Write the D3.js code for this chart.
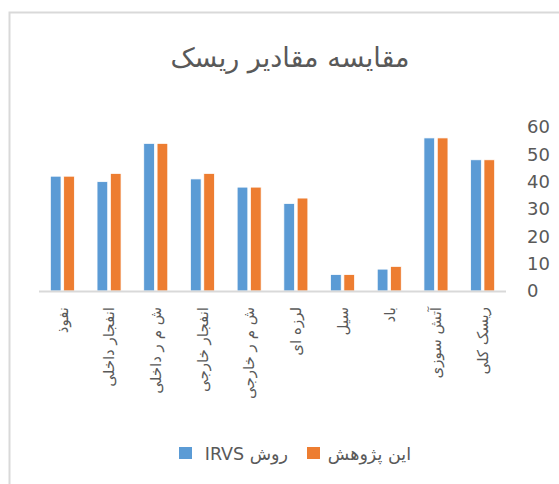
<!DOCTYPE html>
<html>
<head>
<meta charset="utf-8">
<script src="https://cdn.jsdelivr.net/npm/d3@7"></script>
<style>
  body { margin: 0; background: #fff; }
  text { font-family: "DejaVu Sans", sans-serif; }
</style>
</head>
<body>
<div id="chart"></div>
<script>
// categories in sheet order (right to left on the chart)
var categories = ["ریسک کلی", "آتش سوزی", "باد", "سیل", "لرزه ای", "ش م ر خارجی", "انفجار خارجی", "ش م ر داخلی", "انفجار داخلی", "نفوذ"];
var irvs      = [48, 56, 8, 6, 32, 38, 41, 54, 40, 42];
var thisStudy = [48, 56, 9, 6, 34, 38, 43, 54, 43, 42];
var seriesNames = ["روش IRVS", "این پژوهش"];
var yTicks = [0, 10, 20, 30, 40, 50, 60];
var colors = ["#5b9bd5", "#ed7d31"];

var W = 559, H = 484;
var svg = d3.select("#chart").append("svg")
  .attr("width", W).attr("height", H);

// chart frame (only left and top edges visible)
svg.append("rect")
  .attr("x", 9.5).attr("y", 12.5)
  .attr("width", 600).attr("height", 600)
  .attr("fill", "none").attr("stroke", "#d9d9d9").attr("stroke-width", 2);

// title
svg.append("text")
  .attr("x", 290).attr("y", 67)
  .attr("text-anchor", "middle")
  .attr("fill", "#595959")
  .attr("font-size", "27px")
  .text("مقایسه مقادیر ریسک");

var x = d3.scaleBand().domain(categories).range([506, 39]).padding(0);
var y = d3.scaleLinear().domain([0, 60]).range([291, 127]);
var x1 = d3.scaleBand().domain([0, 1]).range([0, 24]).paddingInner(0.2);
var groupOff = (x.bandwidth() - 24) / 2;

var rows = categories.map(function(c, i) { return { cat: c, vals: [irvs[i], thisStudy[i]] }; });

var g = svg.selectAll("g.cat").data(rows).enter().append("g")
  .attr("class", "cat")
  .attr("transform", function(d) { return "translate(" + (x(d.cat) + groupOff) + ",0)"; });

g.selectAll("rect").data(function(d) { return d.vals; }).enter().append("rect")
  .attr("x", function(d, i) { return x1(i); })
  .attr("y", function(d) { return y(d); })
  .attr("width", x1.bandwidth())
  .attr("height", function(d) { return y(0) - y(d); })
  .attr("fill", function(d, i) { return colors[i]; })
  .attr("stroke", "#fff").attr("stroke-width", 0.75);

// baseline
svg.append("line")
  .attr("x1", 39).attr("x2", 506)
  .attr("y1", y(0) + 0.5).attr("y2", y(0) + 0.5)
  .attr("stroke", "#d9d9d9").attr("stroke-width", 2);

// y axis on the right
var yAxis = svg.append("g")
  .attr("transform", "translate(515,0)")
  .call(d3.axisRight(y).tickValues(yTicks).tickSize(0).tickPadding(12));
yAxis.select(".domain").remove();
yAxis.selectAll("text")
  .attr("fill", "#595959")
  .style("font-family", "'DejaVu Sans', sans-serif")
  .style("font-size", "18px");

// category labels, rotated
svg.selectAll("text.xl").data(categories).enter().append("text")
  .attr("class", "xl")
  .attr("transform", function(d) { return "translate(" + (x(d) + x.bandwidth() / 2) + ",307) rotate(-90)"; })
  .attr("text-anchor", "end")
  .attr("dy", "0.35em")
  .attr("fill", "#595959")
  .attr("font-size", "15px")
  .text(function(d) { return d; });

// legend
var legend = [
  { name: seriesNames[0], color: colors[0], sx: 179, tx: 288 },
  { name: seriesNames[1], color: colors[1], sx: 307, tx: 411 }
];
legend.forEach(function(l) {
  svg.append("rect")
    .attr("x", l.sx).attr("y", 447)
    .attr("width", 13).attr("height", 12)
    .attr("fill", l.color);
  svg.append("text")
    .attr("x", l.tx).attr("y", 460)
    .attr("direction", "rtl")
    .attr("text-anchor", "start")
    .attr("fill", "#595959")
    .attr("font-size", "17.5px")
    .text(l.name);
});
</script>
</body>
</html>
